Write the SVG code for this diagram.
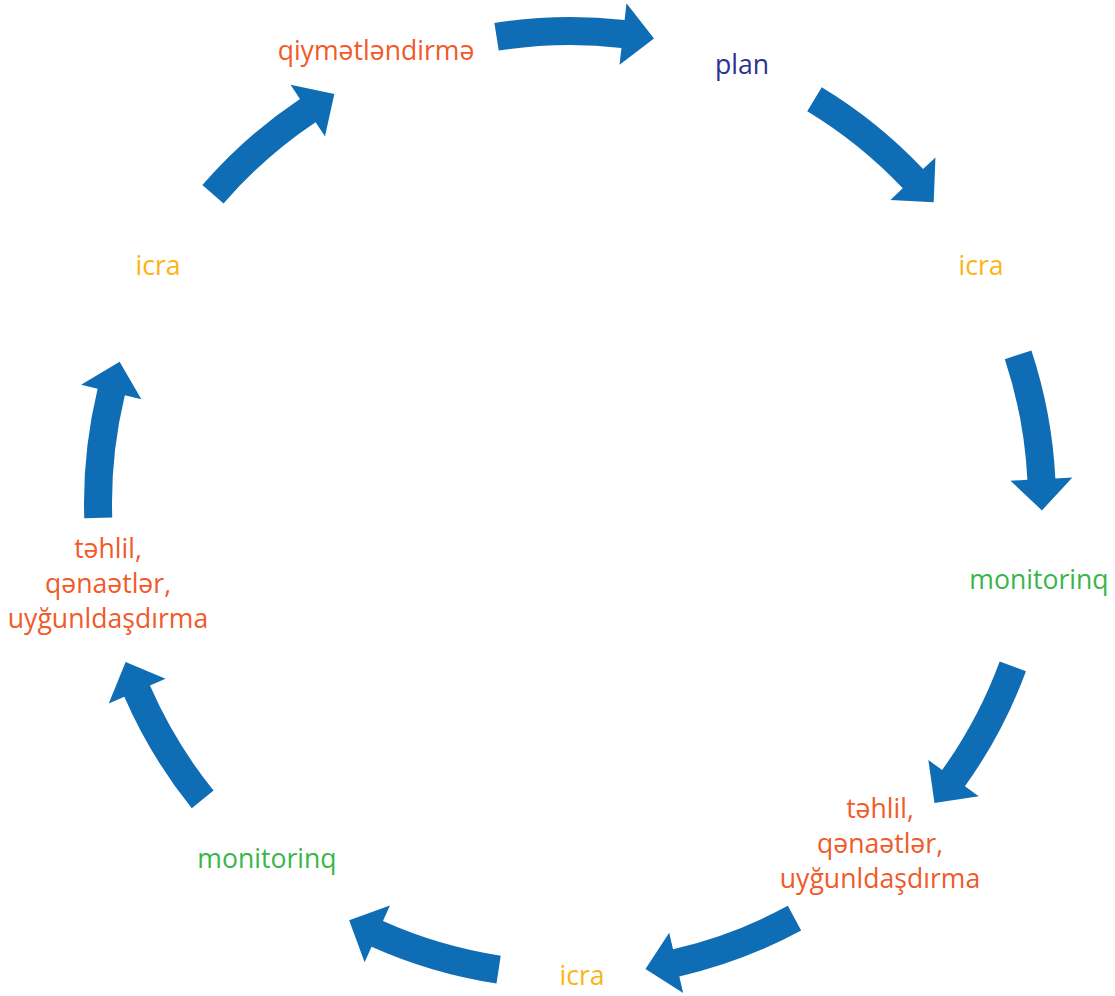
<svg xmlns="http://www.w3.org/2000/svg" width="1115" height="996" viewBox="0 0 1115 996">
  <style>
    .lbl { font-family: "Open Sans", "Noto Sans", sans-serif; font-size: 26.6px; text-anchor: middle; }
    .red { fill: #f15a29; }
    .yel { fill: #fbb415; }
    .grn { fill: #3ab54a; }
    .nav { fill: #2e3192; }
    .arr { fill: #0f6db5; }
  </style>
  <defs>
    <!-- curved arrow on a circle of radius 472, centred at origin, spanning -9.1deg..10.1deg clockwise from top -->
    <path id="arc-arrow" class="arr" d="M -76.87 -479.88 A 486 486 0 0 1 53.33 -483.06 L 55.19 -499.96 L 82.77 -464.68 L 48.39 -438.34 L 50.26 -455.23 A 458 458 0 0 0 -72.44 -452.23 Z"/>
  </defs>
  <rect width="1115" height="996" fill="#ffffff"/>

  <g id="connectors" transform="translate(570 503)">
    <use href="#arc-arrow" transform="rotate(0.15)"/>
    <use href="#arc-arrow" transform="rotate(40.3)"/>
    <use href="#arc-arrow" transform="rotate(80.8)"/>
    <use href="#arc-arrow" transform="rotate(119.35)"/>
    <use href="#arc-arrow" transform="rotate(160.7)"/>
    <use href="#arc-arrow" transform="rotate(197.8)"/>
    <use href="#arc-arrow" transform="rotate(240.2)"/>
    <use href="#arc-arrow" transform="rotate(277.3)"/>
    <use href="#arc-arrow" transform="rotate(319.95)"/>
  </g>

  <g id="node-plan"><text class="lbl nav" x="742" y="74">plan</text></g>
  <g id="node-icra-1"><text class="lbl yel" x="981" y="275">icra</text></g>
  <g id="node-monitorinq-1"><text class="lbl grn" x="1039" y="589">monitorinq</text></g>
  <g id="node-tehlil-1">
    <text class="lbl red" x="880" y="818">təhlil,</text>
    <text class="lbl red" x="880" y="853">qənaətlər,</text>
    <text class="lbl red" x="880" y="888">uyğunldaşdırma</text>
  </g>
  <g id="node-icra-2"><text class="lbl yel" x="582" y="985">icra</text></g>
  <g id="node-monitorinq-2"><text class="lbl grn" x="267" y="868">monitorinq</text></g>
  <g id="node-tehlil-2">
    <text class="lbl red" x="108" y="558">təhlil,</text>
    <text class="lbl red" x="108" y="593">qənaətlər,</text>
    <text class="lbl red" x="108" y="628">uyğunldaşdırma</text>
  </g>
  <g id="node-icra-3"><text class="lbl yel" x="158" y="275">icra</text></g>
  <g id="node-qiymetlendirme"><text class="lbl red" x="376" y="60">qiymətləndirmə</text></g>
</svg>
